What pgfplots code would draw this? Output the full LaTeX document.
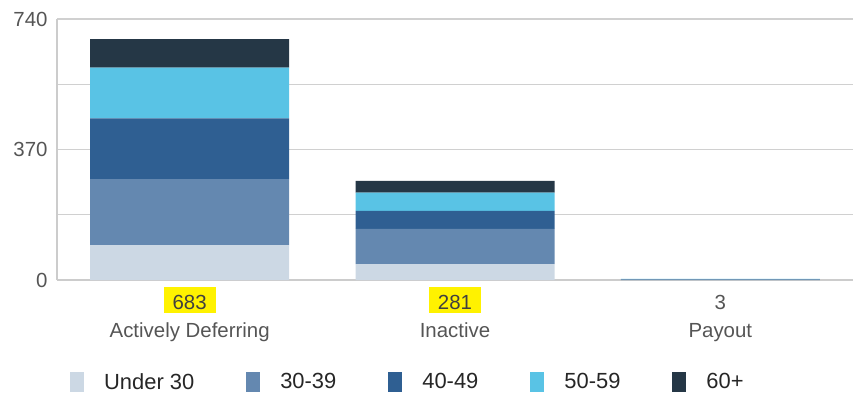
\documentclass[border=0pt]{standalone}
\usepackage{pgfplots}
\pgfplotsset{compat=1.18}
\usepackage{fontspec}
\setmainfont{Liberation Sans}
\definecolor{cA}{HTML}{CCD8E4}
\definecolor{cB}{HTML}{6488B0}
\definecolor{cC}{HTML}{2F5F92}
\definecolor{cD}{HTML}{59C3E5}
\definecolor{cE}{HTML}{253746}
\definecolor{txt}{HTML}{555555}
\definecolor{gridc}{HTML}{D0D0D0}
\definecolor{axc}{HTML}{CCCCCC}
\newcommand\hl[1]{{\setlength{\fboxsep}{0pt}\colorbox{yellow}{\rule[-4bp]{0pt}{26bp}\hspace{9bp}\color{black!75}#1\hspace{9bp}}}}
\newcommand\nohl[1]{\rule[-4bp]{0pt}{26bp}#1}
\begin{document}
\begin{tikzpicture}
\path[use as bounding box] (-57bp,-121bp) rectangle (800bp,280bp);
\begin{axis}[
  scale only axis,
  width=796bp, height=261bp,
  ybar stacked,
  bar width=0.75,
  xmin=-0.5, xmax=2.5,
  ymin=0, ymax=740,
  xtick={0,1,2},
  xticklabels={{\hl{683}\\Actively Deferring},{\hl{281}\\Inactive},{\nohl{3}\\Payout}},
  xticklabel style={align=center, font=\fontsize{20.5}{28}\selectfont, text=txt, inner sep=0pt, yshift=-7bp},
  ytick={0,370,740},
  minor ytick={185,555},
  ymajorgrids, yminorgrids,
  major grid style={draw=gridc, line width=1.2bp},
  minor grid style={draw=gridc, line width=1.2bp},
  major tick length=0, minor tick length=0,
  yticklabel style={font=\fontsize{20.5}{22}\selectfont, text=txt, xshift=-6bp},
  /pgf/number format/assume math mode=true,
  axis x line*=bottom, axis y line*=left,
  axis line style={draw=axc, line width=2.5bp, -},
  legend columns=5,
  legend style={at={(0.0163,-0.391)}, anchor=west, draw=none, fill=none, inner sep=0pt,
    font=\fontsize{22}{24}\selectfont, text=black!85,
    /tikz/every odd column/.append style={column sep=18bp},
    /tikz/every even column/.append style={column sep=50bp}},
  legend image code/.code={\fill[#1] (0bp,-10bp) rectangle (14bp,10bp);},
]
\addplot[fill=cA, draw=none] coordinates {(0,99) (1,45) (2,0)};
\addplot[fill=cB, draw=none] coordinates {(0,187) (1,100) (2,1)};
\addplot[fill=cC, draw=none] coordinates {(0,172) (1,51) (2,1)};
\addplot[fill=cD, draw=none] coordinates {(0,144) (1,52) (2,1)};
\addplot[fill=cE, draw=none] coordinates {(0,81) (1,33) (2,0)};
\legend{Under 30, 30-39, 40-49, 50-59, 60+}
\end{axis}
\end{tikzpicture}
\end{document}
